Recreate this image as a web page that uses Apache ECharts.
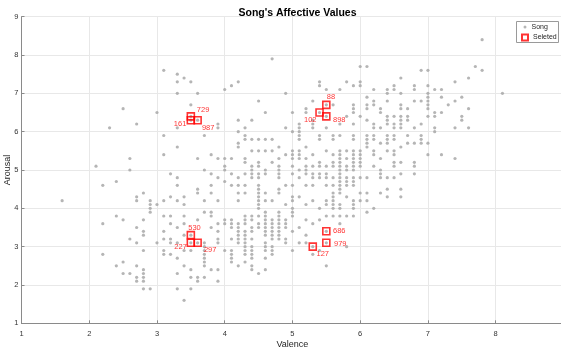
<!DOCTYPE html>
<html>
<head>
<meta charset="utf-8">
<script src="https://cdn.jsdelivr.net/npm/echarts@6/dist/echarts.min.js"></script>
<style>
html,body{margin:0;padding:0;background:#fff;}
#chart{width:561px;height:351px;}
</style>
</head>
<body>
<div id="chart"></div>
<script>
// Song points grouped by valence: [valence, [arousal values...]]
const songColumns = [
  [1.6, [4.2]],
  [2.1, [5.1]],
  [2.2, [4.6, 3.6, 2.8]],
  [2.3, [6.1]],
  [2.4, [4.7, 3.8, 2.5]],
  [2.5, [6.6, 3.7, 2.6, 2.3]],
  [2.6, [5.3, 5.0, 3.2, 2.3]],
  [2.7, [6.2, 4.3, 4.2, 3.5, 3.1, 2.5, 2.2, 2.1]],
  [2.8, [4.4, 3.7, 3.4, 3.3, 2.9, 2.4, 2.3, 2.2, 2.1, 1.9]],
  [2.9, [4.2, 4.1, 4.0, 3.9, 1.9]],
  [3.0, [6.5, 4.1, 3.1]],
  [3.1, [7.6, 5.9, 5.4, 4.2, 3.8, 3.4, 3.2, 2.9, 2.8]],
  [3.2, [4.9, 4.3, 3.8, 3.6, 3.2, 3.1, 2.8]],
  [3.3, [7.5, 7.3, 7.0, 6.1, 5.6, 4.8, 4.6, 4.2, 3.5, 3.1, 2.7, 2.3, 1.9]],
  [3.4, [7.4, 4.3, 4.1, 3.8, 3.6, 3.3, 2.9, 2.5, 1.6]],
  [3.5, [7.3, 6.7, 6.4, 6.3, 3.3, 3.1, 2.9, 2.4, 2.2, 1.9]],
  [3.6, [7.0, 6.3, 5.3, 4.5, 4.4, 3.7, 3.1, 2.2, 2.1]],
  [3.7, [5.9, 5.0, 4.2, 3.9, 3.1, 3.0, 2.9, 2.8, 2.7, 2.6, 2.5, 2.2]],
  [3.8, [5.4, 4.9, 4.6, 4.4, 3.9, 3.8, 3.5, 2.4]],
  [3.9, [6.2, 6.1, 5.3, 4.8, 4.2, 3.6, 3.4, 3.2, 3.1, 2.4, 2.1]],
  [4.0, [7.1, 5.3, 5.1, 5.0, 4.7, 3.7, 3.6, 2.9]],
  [4.1, [7.2, 5.3, 4.9, 4.6, 3.7, 3.6, 3.5, 3.2, 2.9, 2.8, 2.7, 2.6]],
  [4.2, [7.3, 6.3, 6.0, 5.7, 5.6, 4.8, 4.6, 4.4, 4.2, 3.6, 3.5, 3.4, 3.3, 3.2, 3.1, 2.5]],
  [4.3, [6.1, 5.9, 5.8, 5.3, 5.2, 4.9, 4.6, 4.4, 3.8, 3.7, 3.6, 3.4, 3.3, 3.2, 3.1, 3.0, 2.9, 2.8, 2.6]],
  [4.4, [6.3, 5.8, 5.5, 5.1, 5.0, 4.9, 4.8, 3.8, 3.7, 3.5, 3.4, 3.2, 3.0, 2.9, 2.8, 2.7, 2.5, 2.4]],
  [4.5, [6.8, 5.8, 5.5, 5.2, 5.1, 4.9, 4.8, 4.6, 4.5, 4.4, 4.3, 4.2, 4.1, 4.0, 3.8, 3.6, 3.5, 2.3]],
  [4.6, [6.5, 5.8, 5.5, 5.0, 4.9, 4.4, 4.2, 3.9, 3.8, 3.7, 3.6, 3.5, 3.4, 3.3, 3.1, 3.0, 2.9, 2.7, 2.4]],
  [4.7, [7.9, 5.8, 5.5, 5.2, 4.2, 3.7, 3.6, 3.5, 3.4, 3.3, 3.2, 3.0, 2.9, 2.8]],
  [4.8, [5.6, 5.3, 5.1, 5.0, 4.9, 4.8, 4.5, 4.4, 3.9, 3.8, 3.7, 3.6, 3.5, 3.4, 3.3, 3.2]],
  [4.9, [7.0, 6.1, 5.4, 4.6, 4.1, 3.7, 3.6, 3.5, 3.2, 3.1]],
  [5.0, [6.5, 6.0, 5.5, 5.4, 5.3, 5.1, 4.9, 4.6, 4.3, 4.2, 4.0, 3.9, 3.8, 3.4, 2.9]],
  [5.1, [6.2, 6.1, 6.0, 5.9, 5.8, 5.5, 5.4, 5.3, 5.0, 4.8, 4.3, 3.5, 3.1]],
  [5.2, [6.6, 6.5, 5.6, 5.3, 5.1, 5.0, 4.9, 4.6, 4.1, 3.7, 3.3, 3.1]],
  [5.3, [6.8, 6.3, 6.2, 6.1, 5.4, 5.1, 4.9, 4.8, 4.6, 4.2, 3.6, 3.0, 2.8]],
  [5.4, [7.3, 7.2, 6.5, 5.9, 5.8, 5.2, 5.1, 4.9, 4.8, 4.0, 3.7, 2.9]],
  [5.5, [7.1, 6.7, 6.4, 6.1, 5.5, 5.1, 4.9, 4.8, 4.6, 4.2, 4.1, 3.8, 3.4, 3.1, 2.5]],
  [5.6, [6.7, 5.9, 5.8, 5.4, 5.2, 5.1, 4.8, 4.6, 4.4, 4.3, 4.2, 4.1, 4.0, 3.8]],
  [5.7, [7.1, 6.2, 5.9, 5.5, 5.4, 5.3, 5.2, 5.1, 5.0, 4.9, 4.8, 4.7, 4.6, 4.5, 4.4, 4.1, 4.0, 3.8, 3.6]],
  [5.8, [7.3, 6.4, 5.5, 5.3, 5.1, 5.0, 4.8, 4.7, 4.6, 4.3, 3.8, 3.0]],
  [5.9, [7.2, 6.7, 6.6, 6.5, 6.2, 5.9, 5.8, 5.5, 5.4, 5.3, 5.2, 5.1, 5.0, 4.8, 4.7, 4.6, 4.2, 4.1, 4.0, 3.8]],
  [6.0, [7.7, 7.3, 7.2, 6.4, 5.5, 5.4, 5.3, 5.2, 5.1, 4.8, 4.4, 4.2]],
  [6.1, [7.7, 6.9, 6.7, 6.6, 6.3, 5.9, 5.8, 5.7, 5.6, 4.8, 4.4, 4.2, 3.9]],
  [6.2, [7.1, 6.8, 6.7, 6.2, 6.1, 5.9, 5.8, 5.5, 5.4, 5.1, 4.0]],
  [6.3, [6.6, 6.5, 6.1, 5.7, 5.3, 5.0, 4.9, 4.8, 4.4]],
  [6.4, [7.1, 7.0, 6.8, 6.4, 6.3, 6.2, 5.9, 5.8, 5.7, 5.5, 4.8, 4.5, 4.3]],
  [6.5, [7.2, 7.1, 6.4, 6.2, 6.1, 5.9, 5.8, 5.5, 5.4, 5.2, 5.1, 4.8]],
  [6.6, [7.4, 7.0, 6.7, 6.6, 6.4, 6.3, 6.2, 6.1, 5.6, 5.2, 4.9, 4.5, 4.3]],
  [6.7, [6.6, 6.4, 6.3, 5.9, 5.7]],
  [6.8, [7.2, 7.1, 6.8, 6.1, 5.7, 5.2, 5.1, 4.9]],
  [6.9, [7.6, 6.8, 6.2, 5.9, 5.8, 5.7]],
  [7.0, [7.6, 7.2, 7.0, 6.9, 6.8, 6.7, 6.6, 6.4, 5.7, 5.4]],
  [7.1, [7.1, 6.5, 6.4, 6.1, 6.0]],
  [7.2, [7.1, 6.9, 6.5, 5.4]],
  [7.3, [6.7]],
  [7.4, [7.3, 6.8, 6.1, 5.3]],
  [7.5, [6.9, 6.4, 6.3]],
  [7.6, [7.4, 6.6, 6.1]],
  [7.7, [7.7]],
  [7.8, [8.4, 7.6]],
  [8.1, [7.0]]
];

const selectedIds = ['729', '161', '987', '88', '102', '898', '530', '227', '297', '686', '979', '127'];
const selectedValence = [3.5, 3.5, 3.6, 5.5, 5.4, 5.5, 3.5, 3.5, 3.6, 5.5, 5.5, 5.3];
const selectedArousal = [6.4, 6.3, 6.3, 6.7, 6.5, 6.4, 3.3, 3.1, 3.1, 3.4, 3.1, 3.0];

const axisTicks = [1, 2, 3, 4, 5, 6, 7, 8, 9];

// label placement (style only)
const labelPlacement = {
  '729': ['left', 6, -6],
  '161': ['right', -4.5, 4],
  '987': ['left', 4.3, 8],
  '88':  ['left', 0.4, -7.7],
  '102': ['right', -3, 7],
  '898': ['left', 6.7, 3.7],
  '530': ['left', -2.6, -7.6],
  '227': ['right', -4, 4],
  '297': ['left', 6.3, 7.3],
  '686': ['left', 6.7, 0],
  '979': ['left', 7.7, 0.7],
  '127': ['left', 3.7, 7]
};

const songData = [];
songColumns.forEach(function (col) {
  col[1].forEach(function (a) { songData.push([col[0], a]); });
});

const selectedData = selectedIds.map(function (id, i) {
  const p = labelPlacement[id];
  return {
    name: id,
    value: [selectedValence[i], selectedArousal[i]],
    label: { align: p[0], offset: [p[1], p[2]] }
  };
});

const FONT = '"Liberation Sans", Arial, Helvetica, sans-serif';
const chart = echarts.init(document.getElementById('chart'), null, { renderer: 'canvas' });

chart.setOption({
  animation: false,
  backgroundColor: '#ffffff',
  title: {
    text: "Song's Affective Values",
    left: 292.5,
    top: 3,
    textAlign: 'center',
    textStyle: { fontFamily: FONT, fontSize: 10.5, fontWeight: 'bold', color: '#000000' }
  },
  grid: { left: 21.5, right: -2.4, top: 16.7, bottom: 27.7, containLabel: false, outerBoundsMode: 'none' },
  xAxis: {
    type: 'value',
    min: axisTicks[0],
    max: axisTicks[axisTicks.length - 1],
    interval: 1,
    name: 'Valence',
    nameLocation: 'middle',
    nameGap: 17,
    nameMoveOverlap: false,
    nameTextStyle: { fontFamily: FONT, fontSize: 9, color: '#262626' },
    axisLine: { show: true, onZero: false, lineStyle: { color: '#8a8a8a', width: 1 } },
    axisTick: { show: true, inside: true, length: 3, lineStyle: { color: '#8a8a8a' } },
    axisLabel: {
      fontFamily: FONT, fontSize: 7.5, color: '#333333', margin: 7,
      formatter: function (v) { return v >= 9 ? '' : String(v); }
    },
    splitLine: { show: true, lineStyle: { color: '#e8e8e8', width: 1 } }
  },
  yAxis: {
    type: 'value',
    min: axisTicks[0],
    max: axisTicks[axisTicks.length - 1],
    interval: 1,
    name: 'Arousal',
    nameLocation: 'middle',
    nameGap: 9,
    nameMoveOverlap: false,
    nameRotate: 90,
    nameTextStyle: { fontFamily: FONT, fontSize: 9, color: '#262626' },
    axisLine: { show: true, onZero: false, lineStyle: { color: '#8a8a8a', width: 1 } },
    axisTick: { show: true, inside: true, length: 3, lineStyle: { color: '#8a8a8a' } },
    axisLabel: { fontFamily: FONT, fontSize: 7.5, color: '#333333', margin: 3 },
    splitLine: { show: true, lineStyle: { color: '#e8e8e8', width: 1 } }
  },
  legend: [
    {
      data: ['Song'],
      orient: 'vertical',
      left: 523.5,
      top: 23,
      padding: 0,
      icon: 'circle',
      itemWidth: 3,
      itemHeight: 3,
      itemGap: 0,
      z: 10,
      textStyle: { fontFamily: FONT, fontSize: 7, color: '#262626', lineHeight: 8 }
    },
    {
      data: ['Seleted'],
      orient: 'vertical',
      left: 521,
      top: 33.5,
      padding: 0,
      icon: 'rect',
      itemWidth: 6,
      itemHeight: 6,
      itemGap: 0,
      z: 10,
      textStyle: { fontFamily: FONT, fontSize: 7, color: '#262626', lineHeight: 8 }
    }
  ],
  graphic: [
    {
      type: 'rect',
      shape: { x: 516.5, y: 21.5, width: 42, height: 21 },
      style: { fill: '#ffffff', stroke: '#9a9a9a', lineWidth: 1 },
      z: 5
    }
  ],
  series: [
    {
      name: 'Song',
      type: 'scatter',
      data: songData,
      symbol: 'circle',
      symbolSize: 3.2,
      itemStyle: { color: '#a3a3a3' },
      z: 2
    },
    {
      name: 'Seleted',
      type: 'scatter',
      data: selectedData,
      symbol: 'rect',
      symbolSize: 7,
      itemStyle: { color: 'rgba(255,255,255,0)', borderColor: '#ff0000', borderWidth: 1.6 },
      label: {
        show: true,
        position: 'inside',
        verticalAlign: 'middle',
        formatter: '{b}',
        fontFamily: FONT,
        fontSize: 7.5,
        color: '#ff0000'
      },
      z: 3
    }
  ]
});
</script>
</body>
</html>
